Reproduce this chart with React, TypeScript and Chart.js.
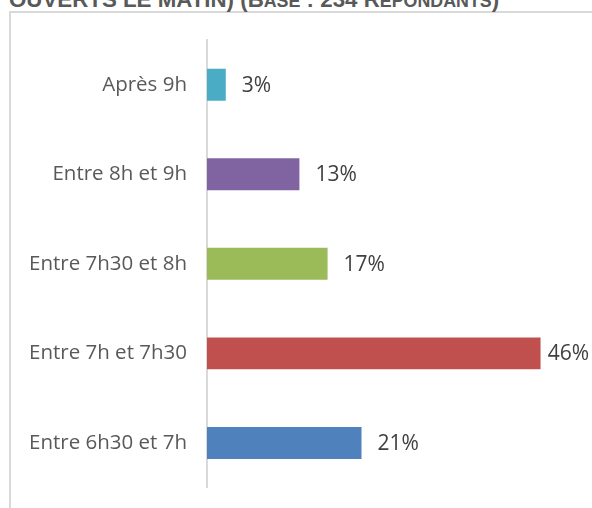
import React, { useEffect, useRef } from "react";
import { Chart, registerables } from "chart.js";

Chart.register(...registerables);

const categories = ["Après 9h", "Entre 8h et 9h", "Entre 7h30 et 8h", "Entre 7h et 7h30", "Entre 6h30 et 7h"];
const values = [2.6, 12.8, 16.7, 46.2, 21.4];
const valueLabels = ["3%", "13%", "17%", "46%", "21%"];
const barColors = ["#4BACC6", "#8064A2", "#9BBB59", "#C0504D", "#4F81BD"];
const xMax = 50;

const valueLabelPlugin = {
  id: "valueLabels",
  afterDatasetsDraw(chart: any) {
    const ctx = chart.ctx;
    const meta = chart.getDatasetMeta(0);
    ctx.save();
    ctx.font = "21px 'Open Sans'";
    ctx.fillStyle = "#404040";
    ctx.textBaseline = "middle";
    ctx.textAlign = "left";
    meta.data.forEach((bar: any, i: number) => {
      const text = valueLabels[i];
      const w = ctx.measureText(text).width;
      let x = bar.x + 16;
      if (x + w > chart.width - 3) x = Math.max(bar.x + 2, chart.width - 3 - w);
      ctx.fillText(text, x, bar.y + 1);
    });
    ctx.restore();
  },
};

export default function App() {
  const ref = useRef<HTMLCanvasElement>(null);
  useEffect(() => {
    if (!ref.current) return;
    const chart = new Chart(ref.current, {
      type: "bar",
      data: {
        labels: categories,
        datasets: [
          {
            data: values,
            backgroundColor: barColors,
            categoryPercentage: 1,
            barPercentage: 0.357,
          },
        ],
      },
      options: {
        indexAxis: "y",
        animation: false,
        responsive: false,
        maintainAspectRatio: false,
        layout: { padding: { top: 40, bottom: 0, left: 0, right: 24 } },
        plugins: { legend: { display: false }, tooltip: { enabled: false }, title: { display: false } },
        scales: {
          x: { display: false, min: 0, max: xMax, grid: { display: false } },
          y: {
            grid: { display: false, drawTicks: false },
            border: { display: true, color: "#d9d9d9", width: 2 },
            ticks: { color: "#595959", font: { family: "'Open Sans'", size: 20.5 }, padding: 20 },
            afterFit(scale: any) {
              scale.width = 207;
            },
          },
        },
      },
      plugins: [valueLabelPlugin],
    });
    return () => chart.destroy();
  }, []);
  const sc = { fontSize: "0.8em" };
  return (
    <div style={{ position: "fixed", left: 0, top: 0, width: 592, height: 508, overflow: "hidden", background: "#fff" }}>
      <div
        style={{
          position: "absolute",
          left: 9,
          top: 11,
          width: 700,
          height: 600,
          border: "2px solid #d9d9d9",
          boxSizing: "border-box",
        }}
      />
      <div
        style={{
          position: "absolute",
          left: 9,
          top: -12,
          whiteSpace: "nowrap",
          font: "bold 22.3px 'Liberation Sans', Arial, sans-serif",
          lineHeight: "23px",
          color: "#595959",
        }}
      >
        OUVERTS LE MATIN) (B<span style={sc}>ASE</span> : 234 R<span style={sc}>ÉPONDANTS</span>)
      </div>
      <canvas ref={ref} width={592} height={520} style={{ position: "absolute", left: 0, top: 0 }} />
    </div>
  );
}
